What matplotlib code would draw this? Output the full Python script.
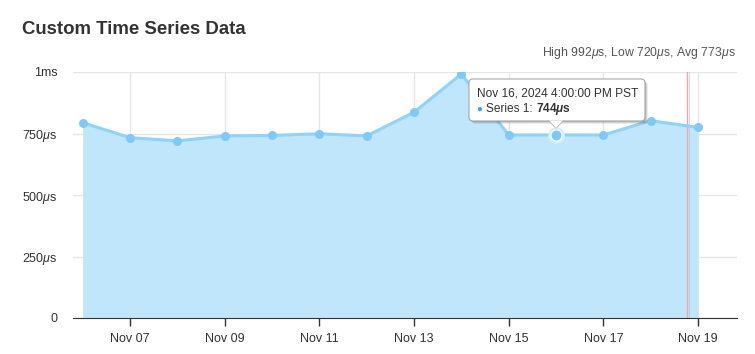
import datetime as dt
import matplotlib
matplotlib.use("Agg")
import matplotlib.pyplot as plt
import matplotlib.dates as mdates
from matplotlib.patches import FancyBboxPatch, Polygon
from matplotlib.transforms import IdentityTransform

plt.rcParams['font.family'] = ['Liberation Sans', 'DejaVu Sans']
plt.rcParams['mathtext.fontset'] = 'custom'
plt.rcParams['mathtext.rm'] = 'Liberation Sans'
plt.rcParams['mathtext.it'] = 'Liberation Sans:italic'
plt.rcParams['mathtext.bf'] = 'Liberation Sans:bold:italic'

## DATA
dates = [dt.datetime(2024, 11, d) for d in range(6, 20)]
values = [794, 733, 720, 740, 742, 749, 740, 836, 992, 744, 744, 744, 802, 775]
y_ticks = [0, 250, 500, 750, 1000]
y_labels = ['0', r'250$\mu$s', r'500$\mu$s', r'750$\mu$s', '1ms']
x_ticks = [dt.datetime(2024, 11, d) for d in (7, 9, 11, 13, 15, 17, 19)]
now_marker = dt.datetime(2024, 11, 18, 18, 25)
hover_idx = 10
summary = r'High 992$\mu$s, Low 720$\mu$s, Avg 773$\mu$s'
tip_date = 'Nov 16, 2024 4:00:00 PM PST'
tip_value = r'744$\mathbf{\mu}$s'

## FIGURE
fig = plt.figure(figsize=(7.55, 3.54), dpi=100)
ax = fig.add_axes([73/755, 1-318/354, (737-73)/755, (318-72)/354])

fill_c = '#c0e6fc'
line_c = '#8fd2fb'
dot_c = '#7ec9f8'

ax.fill_between(dates, values, 0, color=fill_c, lw=0, zorder=1)
ax.plot(dates, values, color=line_c, lw=2.2, zorder=3)
ax.plot(dates, values, 'o', ms=6.5, color=dot_c, mec='none', zorder=4)

# hovered point
hx, hy = dates[hover_idx], values[hover_idx]
ax.plot([hx], [hy], 'o', ms=12, color='#d6effd', mec='none', zorder=4)
ax.plot([hx], [hy], 'o', ms=8, color=dot_c, mec='white', mew=0.8, zorder=5)

ax.axvline(now_marker, color='#f4a6a6', lw=1.0, zorder=2)
ax.axvline(now_marker + dt.timedelta(hours=1), color='#c8a8c8', lw=0.6, alpha=0.6, zorder=2)

ax.set_xlim(dt.datetime(2024, 11, 5, 19, 6), dt.datetime(2024, 11, 19, 19, 47))
ax.set_ylim(0, 1000)
ax.set_yticks(y_ticks)
ax.set_yticklabels(y_labels)
ax.set_xticks(x_ticks)
ax.xaxis.set_major_formatter(mdates.DateFormatter('%b %d'))

ax.grid(True, color='#e6e6e6', lw=1, zorder=0)
ax.set_axisbelow(True)
for s in ('top', 'right', 'left'):
    ax.spines[s].set_visible(False)
ax.spines['bottom'].set_color('#333333')
ax.spines['bottom'].set_zorder(6)
ax.tick_params(axis='x', length=6, width=1, color='#333333', pad=5,
               labelsize=9, labelcolor='#333333')
ax.tick_params(axis='y', length=0, pad=11, labelsize=9, labelcolor='#333333')

fig.text(22/755, 1-30/354, 'Custom Time Series Data', fontsize=13.4, fontweight='bold',
         color='#333333', va='center', ha='left')
fig.text(736/755, 1-53/354, summary, fontsize=8.8, color='#555555', va='center', ha='right')

## TOOLTIP (drawn in pixels around the hovered point)
fig.canvas.draw()
px, py = ax.transData.transform((mdates.date2num(hx), hy))
bx0, bx1 = px - 87, px + 89
by0, by1 = py + 14, py + 56
for off, a in ((3, 0.08), (2, 0.10), (1, 0.12)):
    sh = FancyBboxPatch((bx0 + off, by0 - off), bx1 - bx0, by1 - by0,
                        boxstyle='round,pad=0,rounding_size=4', fc='black', ec='none',
                        alpha=a, transform=IdentityTransform(), zorder=7)
    fig.patches.append(sh)
box = FancyBboxPatch((bx0, by0), bx1 - bx0, by1 - by0,
                     boxstyle='round,pad=0,rounding_size=4', fc='white', ec='#a8a8a8',
                     lw=0.8, transform=IdentityTransform(), zorder=8)
fig.patches.append(box)
tri = Polygon([(px - 7, by0 + 0.5), (px + 7, by0 + 0.5), (px, by0 - 7)], closed=True,
              fc='white', ec='none', transform=IdentityTransform(), zorder=9)
fig.patches.append(tri)
fig.lines.append(plt.Line2D([px - 7, px, px + 7], [by0, by0 - 7, by0], color='#a8a8a8',
                            lw=0.8, transform=IdentityTransform(), zorder=9))

fig.text((bx0 + 8) / 755, (py + 41) / 354, tip_date, fontsize=8.6, color='#333333',
         va='center', ha='left', zorder=10)
fig.text((bx0 + 7) / 755, (py + 26.5) / 354, '\u25cf', fontsize=7, color='#2fa8f5',
         va='center', ha='left', zorder=10)
t1 = fig.text((bx0 + 17) / 755, (py + 26) / 354, 'Series 1: ', fontsize=8.6, color='#333333',
              va='center', ha='left', zorder=10)
fig.canvas.draw()
ext = t1.get_window_extent()
fig.text(ext.x1 / 755, (py + 26) / 354, tip_value, fontsize=8.6, fontweight='bold',
         color='#333333', va='center', ha='left', zorder=10)

fig.savefig('out.png', dpi=100)
